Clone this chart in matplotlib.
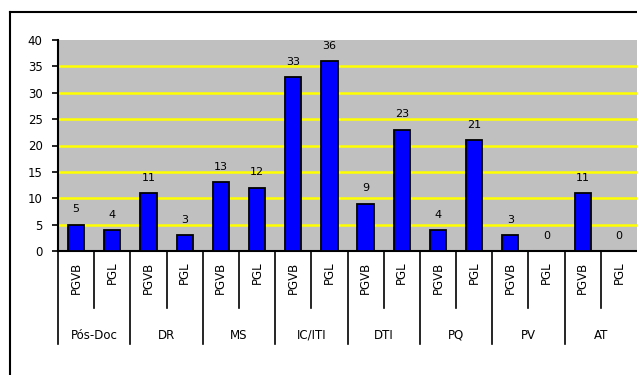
import numpy as np
import matplotlib
matplotlib.use("Agg")
import matplotlib.pyplot as plt
from matplotlib.lines import Line2D
from matplotlib.transforms import blended_transform_factory

groups = ["Pós-Doc", "DR", "MS", "IC/ITI", "DTI", "PQ", "PV", "AT"]
sub_labels = ["PGVB", "PGL"]
pgvb = [5, 11, 13, 33, 9, 4, 3, 11]
pgl = [4, 3, 12, 36, 23, 21, 0, 0]
yticks = list(range(0, 41, 5))

values = []
for a, b in zip(pgvb, pgl):
    values += [a, b]
x = np.arange(len(values))

plt.rcParams['font.family'] = ['DejaVu Sans']
fig = plt.figure(figsize=(6.37, 3.75), dpi=100)

W, H = 637.0, 375.0
ax = fig.add_axes([58 / W, 1 - 251 / H, 1 - 58 / W, (251 - 40) / H])
ax.set_facecolor("#c0c0c0")

# yellow gridlines (none on the top edge)
for yv in yticks[1:-1]:
    ax.axhline(yv, color="#ffff00", linewidth=1.8, zorder=1)

ax.bar(x, values, width=0.45, color="#0000ff", edgecolor="black", linewidth=1.3, zorder=3)
for xi, v in zip(x, values):
    ax.annotate(str(v), (xi, v), xytext=(0, 11), textcoords="offset points",
                ha="center", va="center", fontsize=8)

ax.set_xlim(-0.5, len(values) - 0.5)
ax.set_ylim(0, 40)
ax.set_yticks(yticks)
ax.tick_params(axis="y", direction="out", length=4, width=1.2, pad=7, labelsize=8.5)
ax.set_xticks([])
for s in ["top", "right"]:
    ax.spines[s].set_visible(False)
ax.spines["left"].set_linewidth(1.5)
ax.spines["bottom"].set_linewidth(1.5)

# hierarchical x-axis labels
tr = blended_transform_factory(ax.transData, ax.transAxes)
for i, xi in enumerate(x):
    ax.text(xi, -0.05, sub_labels[i % 2], transform=tr, rotation=90,
            ha="center", va="top", fontsize=8.5)
for k in range(len(values)):
    xs = k - 0.5
    if k % 2 == 0:
        ax.add_line(Line2D([xs, xs], [0, -0.44], transform=tr, color="black",
                           linewidth=1.2, clip_on=False))
    else:
        ax.add_line(Line2D([xs, xs], [0, -0.27], transform=tr, color="black",
                           linewidth=1.2, clip_on=False))
for g, name in enumerate(groups):
    ax.text(2 * g + 0.5, -0.40, name, transform=tr, ha="center", va="center", fontsize=8.5)

# outer chart border (top and left visible)
fig.add_artist(Line2D([10 / W, 1], [1 - 12 / H, 1 - 12 / H], transform=fig.transFigure,
                      color="black", linewidth=1.5))
fig.add_artist(Line2D([10 / W, 10 / W], [0, 1 - 12 / H], transform=fig.transFigure,
                      color="black", linewidth=1.5))

fig.savefig("out.png", dpi=100)
